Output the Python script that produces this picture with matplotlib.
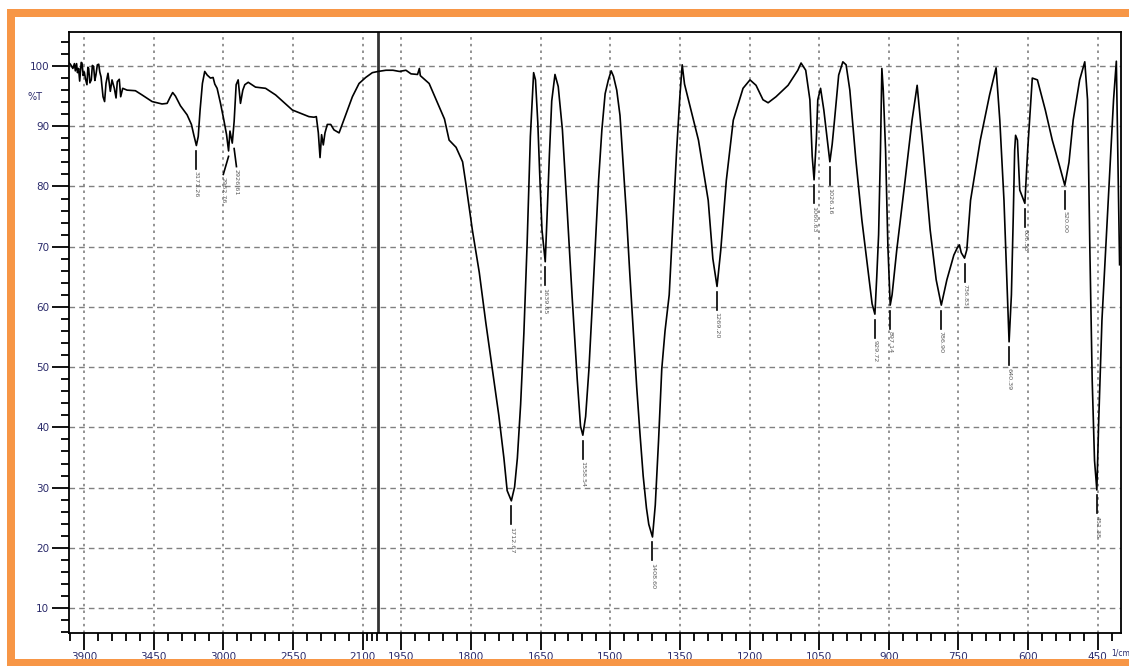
import numpy as np
import matplotlib.pyplot as plt
from matplotlib.patches import Rectangle

# espectro: 4000-2000 (escala comprimida)
high_wn = [4000, 3988, 3972, 3962, 3956, 3948, 3942, 3935, 3928, 3924, 3918, 3913, 3905,
           3898, 3890, 3881, 3875, 3870, 3862, 3853, 3846, 3838, 3830, 3823, 3814, 3805,
           3798, 3790, 3777, 3767, 3758, 3745, 3730, 3719, 3704, 3693, 3685, 3672, 3663,
           3650, 3622, 3568, 3525, 3460, 3396, 3363, 3342, 3327, 3309, 3277, 3234, 3206,
           3191, 3174, 3162, 3150, 3135, 3120, 3104, 3083, 3066, 3055, 3040, 3018, 2997,
           2979, 2966, 2957, 2942, 2930, 2917, 2904, 2889, 2874, 2861, 2839, 2792, 2727,
           2662, 2554, 2447, 2414, 2399, 2386, 2375, 2365, 2354, 2343, 2328, 2306, 2285,
           2252, 2209, 2166, 2123, 2080, 2037, 2000]
high_t = [100.6, 100.3, 99.6, 100.4, 99.2, 100.4, 98.9, 99.6, 97.5, 98.8, 100.6, 100.5, 98.4,
          99.0, 97.8, 96.9, 99.8, 99.6, 97.2, 97.7, 100.1, 99.9, 97.6, 98.5, 100.2, 100.3,
          99.0, 98.2, 94.9, 94.1, 97.1, 98.8, 95.8, 97.7, 96.3, 94.7, 97.4, 97.8, 94.9,
          96.3, 96.0, 95.9, 95.2, 94.1, 93.7, 93.8, 94.9, 95.6, 95.0, 93.4, 91.9, 90.3,
          88.6, 86.8, 88.3, 92.7, 97.1, 99.1, 98.5, 98.0, 98.1, 97.0, 96.3, 93.8, 91.1,
          88.6, 85.9, 89.2, 87.2, 90.8, 96.9, 97.7, 93.8, 96.0, 96.9, 97.3, 96.5, 96.3,
          95.2, 92.7, 91.6, 91.5, 91.6, 88.9, 84.8, 88.6, 86.9, 88.9, 90.3, 90.3, 89.4,
          88.9, 91.9, 94.9, 97.1, 98.1, 98.9, 99.1]

# 2000-400
low_wn = [1983, 1968, 1954, 1940, 1929, 1915, 1911, 1909, 1890, 1870,
          1857, 1847, 1832, 1818, 1811, 1797, 1782, 1768, 1754, 1740,
          1729, 1722, 1713, 1706, 1700, 1693, 1686, 1679, 1672, 1665,
          1661, 1656, 1652, 1647, 1640, 1636, 1631, 1626, 1619, 1612,
          1603, 1593, 1582, 1571, 1564, 1559, 1553, 1546, 1539, 1532,
          1525, 1518, 1511, 1504, 1498, 1493, 1486, 1479, 1472, 1465,
          1458, 1450, 1443, 1436, 1429, 1422, 1417, 1409, 1403, 1396,
          1389, 1382, 1373, 1365, 1357, 1350, 1345, 1340, 1332, 1310,
          1289, 1279, 1270, 1262, 1250, 1235, 1214, 1199, 1186, 1171,
          1160, 1143, 1117, 1096, 1089, 1079, 1070, 1065, 1061, 1056,
          1053, 1047, 1040, 1027, 1022, 1017, 1008, 999, 992, 984,
          971, 958, 945, 936, 930, 926, 922, 918, 915, 912,
          907, 902, 897, 893, 883, 865, 850, 839, 826, 811,
          798, 787, 775, 760, 752, 748, 744, 737, 732, 724,
          703, 683, 669, 661, 652, 645, 641, 636, 632, 629,
          627, 623, 618, 607, 601, 591, 580, 563, 548, 533,
          521, 512, 503, 489, 478, 472, 467, 462, 457, 452,
          448, 441, 433, 424, 416, 410, 403]
low_t = [99.3, 99.3, 99.1, 99.3, 98.7, 98.6, 99.6, 98.4, 97.1, 93.5,
         91.2, 87.7, 86.5, 84.1, 80.5, 72.8, 65.7, 57.4, 49.7, 42.0,
         34.9, 29.5, 27.8, 30.1, 34.9, 43.8, 55.6, 70.5, 88.3, 98.9,
         97.7, 90.6, 82.3, 72.8, 67.5, 75.2, 85.3, 94.2, 98.6, 96.6,
         89.4, 76.4, 61.6, 47.9, 40.2, 38.7, 41.8, 49.5, 59.8, 70.5,
         81.1, 89.4, 95.4, 97.7, 99.2, 98.3, 96.0, 91.8, 83.5, 75.2,
         65.7, 55.6, 46.7, 39.0, 31.9, 26.6, 23.9, 21.8, 27.1, 37.7,
         49.7, 56.0, 62.0, 74.0, 86.0, 95.0, 100.2, 97.0, 94.5, 87.7,
         77.7, 68.0, 63.4, 69.4, 81.0, 91.0, 96.3, 97.7, 96.8, 94.4,
         93.9, 94.9, 96.8, 99.3, 100.5, 99.3, 94.4, 85.0, 81.1, 88.0,
         94.4, 96.3, 92.7, 84.1, 87.0, 91.0, 98.5, 100.7, 100.2, 96.0,
         84.4, 74.4, 66.1, 60.5, 58.8, 65.0, 72.0, 86.0, 99.6, 96.0,
         86.0, 70.0, 60.3, 62.0, 69.4, 81.0, 91.0, 96.8, 86.0, 72.8,
         64.5, 60.3, 64.5, 68.6, 69.9, 70.3, 69.0, 68.1, 69.5, 77.7,
         87.7, 95.2, 99.7, 91.0, 77.7, 62.8, 54.2, 62.0, 75.0, 86.0,
         88.5, 87.7, 79.4, 77.2, 86.0, 98.0, 97.7, 92.7, 87.7, 83.6,
         80.2, 84.0, 91.0, 97.7, 100.7, 94.4, 69.4, 47.8, 34.5, 29.6,
         41.0, 57.8, 69.4, 82.7, 94.4, 100.8, 67.0]

wn = high_wn + low_wn
tr = high_t + low_t

# picos marcados
peak_txt = ['3171.26', '2962.76', '2926.61', '1712.67', '1639.55', '1558.54', '1408.60',
            '1269.20', '1060.63', '1026.16', '929.72', '897.14', '786.90', '736.83',
            '640.39', '606.53', '520.00', '451.38']
peak_x = [3174, 2966, 2930, 1713, 1640, 1559, 1409, 1270, 1061, 1027, 930, 897, 787, 737,
          641, 607, 521, 452]
peak_t = [86.8, 85.9, 87.2, 27.8, 67.5, 38.7, 21.8, 63.4, 81.1, 84.1, 58.8, 60.3, 60.3,
          68.1, 54.2, 77.2, 80.2, 29.6]
label_x = [3174, 3000, 2915, 1713, 1640, 1559, 1409, 1270, 1061, 1027, 930, 897, 787, 737,
           641, 607, 521, 452]

major_x = [3900, 3450, 3000, 2550, 2100, 1950, 1800, 1650, 1500, 1350, 1200, 1050, 900,
           750, 600, 450]
minor_x = [3990, 3810, 3720, 3630, 3540, 3360, 3270, 3180, 3090, 2910, 2820, 2730, 2640,
           2460, 2370, 2280, 2190, 2070, 2040, 2010, 1980] + \
          [w for w in range(1920, 400, -30) if w not in major_x]

lblcol = '#2b2b6b'


def fwd(w):
    w = np.asarray(w, dtype=float)
    return np.where(w > 2000, 2000 + (w - 2000) / 3, w)


def inv(u):
    u = np.asarray(u, dtype=float)
    return np.where(u > 2000, 2000 + (u - 2000) * 3, u)


fig = plt.figure(figsize=(11.29, 6.66), dpi=100)
ax = fig.add_axes([0.0607, 0.0495, 0.9322, 0.9029])
ax.set_xscale('function', functions=(fwd, inv))
ax.set_xlim(4000, 400)
ax.set_ylim(5.85, 105.7)

ax.set_xticks(major_x)
ax.set_xticklabels([str(v) for v in major_x])
ax.set_xticks(minor_x, minor=True)
ax.set_yticks(range(10, 101, 10))
ax.set_yticks([v for v in range(6, 105, 2) if v % 10], minor=True)

ax.tick_params(which='major', length=12, width=1.3, direction='out', labelsize=7.5,
               labelcolor=lblcol, pad=2)
ax.tick_params(which='minor', length=6, width=1.3, direction='out')
for s in ax.spines.values():
    s.set_linewidth(1.3)

ax.grid(axis='x', which='major', color='#808080', linestyle=(0, (1.5, 2.5)), linewidth=1.2)
ax.grid(axis='y', which='major', color='#808080', linestyle=(0, (4, 3)), linewidth=1.0)
ax.set_axisbelow(True)

ax.axvline(2000, color='#333333', linewidth=2)
ax.plot(wn, tr, color='black', linewidth=1.2)

for txt, px, pt, lx in zip(peak_txt, peak_x, peak_t, label_x):
    ax.plot([px, lx], [pt - 0.9, pt - 3.9], color='black', linewidth=1.2)
    ax.text(lx, pt - 4.3, txt, rotation=270, ha='center', va='top', fontsize=4.6,
            color='#5a5a5a')

fig.text(35 / 1129, 1 - 97 / 666, '%T', ha='center', va='center', fontsize=7, color=lblcol)
fig.text(1111 / 1129, 1 - 653 / 666, '1/cm', ha='left', va='center', fontsize=5.5,
         color=lblcol)

orange = '#F79646'
for r in [(0.0059, 0.9749, 0.9941, 0.0111),
          (0.0059, 0.0, 0.0074, 0.986),
          (0.0059, 0.0, 0.9941, 0.0105)]:
    fig.patches.append(Rectangle(r[:2], r[2], r[3], transform=fig.transFigure,
                                 facecolor=orange, edgecolor='none', zorder=10))

fig.savefig('out.png', dpi=100)
